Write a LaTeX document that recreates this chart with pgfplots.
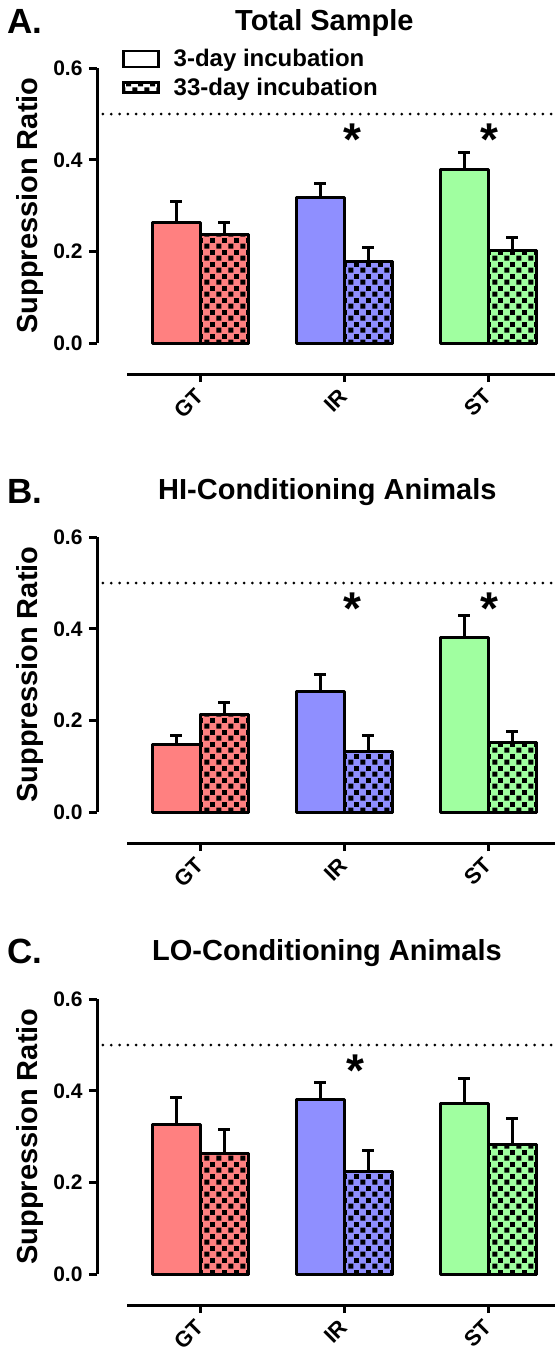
\documentclass[border=0pt]{standalone}
\usepackage{pgfplots}
\pgfplotsset{compat=1.18}
\usepackage{fontspec}
\setmainfont{Liberation Sans}
\usetikzlibrary{patterns}
\pgfdeclarepatternformonly{checker}{\pgfpointorigin}{\pgfqpoint{12pt}{12pt}}{\pgfqpoint{12pt}{12pt}}{%
 \pgfpathrectangle{\pgfqpoint{0.5pt}{0.5pt}}{\pgfqpoint{5.2pt}{5.2pt}}%
 \pgfpathrectangle{\pgfqpoint{6.5pt}{6.5pt}}{\pgfqpoint{5.2pt}{5.2pt}}%
 \pgfusepath{fill}}
\definecolor{cr}{RGB}{255,128,128}
\definecolor{cb}{RGB}{143,143,255}
\definecolor{cg}{RGB}{160,255,160}
\pgfplotsset{
 panel/.style={
  scale only axis, width=458pt, height=305.8pt,
  xmin=-0.7153, xmax=2.465, ymin=-0.0677, ymax=0.6,
  axis x line=bottom, axis y line=left,
  x axis line style={-, line width=3pt, shorten <=30pt},
  y axis line style={-, line width=3pt, shorten <=31pt},
  xtick={0,1,2}, xticklabels={GT,IR,ST},
  ytick={0,0.2,0.4,0.6}, yticklabels={0.0,0.2,0.4,0.6},
  tick align=outside, major tick length=8pt,
  tick style={line width=3pt, black},
  /pgf/number format/assume math mode=true,
  ticklabel style={font=\fontsize{21}{25}\selectfont\bfseries},
  yticklabel style={xshift=-3pt},
  xticklabel style={yshift=-8pt, xshift=2pt, rotate=45, anchor=east, font=\fontsize{22}{25}\selectfont\bfseries},
  clip=false,
  ylabel={Suppression Ratio},
  every axis y label/.style={at={(axis cs:-0.7153,0.3)}, xshift=-59pt, rotate=90, anchor=base, font=\fontsize{29}{30}\selectfont\bfseries},
  error bars/error mark=|,
  error bars/error bar style={line width=3pt, black, solid},
  error bars/error mark options={line width=3pt, mark size=6pt, black, solid},
 },
 bar/.style={ybar, bar width=48pt, bar shift=0pt, draw=black, line width=3pt, line join=round, forget plot,
   error bars/y dir=plus, error bars/y explicit},
 bA/.style={bar, fill=#1},
 bB/.style={bar, fill=#1, postaction={pattern=checker}},
 ref/.style={forget plot, black, line width=3pt, dash pattern=on 0pt off 8.3pt, line cap=round},
}
\newcommand{\sigstar}[2]{\node[font=\fontsize{46}{46}\selectfont\bfseries, anchor=base] at (axis cs:#1,#2) {*};}
\begin{document}
\begin{tikzpicture}
\path[use as bounding box] (0,0) rectangle (555pt,-1353pt);
% Panel A
\begin{axis}[panel, at={(97pt,-374pt)}, anchor=south west,
  legend style={at={(axis cs:-0.7153,0.6)}, anchor=north west, xshift=22pt, yshift=23pt, draw=none, fill=none,
   font=\fontsize{24}{28}\selectfont\bfseries, row sep=6pt, column sep=12pt},
  legend cell align=left]
\addplot[ref] coordinates {(-0.674,0.5) (2.465,0.5)};
\addplot[bA=cr] coordinates {(-0.1667,0.264) +- (0,0.044)};
\addplot[bB=cr] coordinates {(0.1667,0.236) +- (0,0.028)};
\addplot[bA=cb] coordinates {(0.8333,0.317) +- (0,0.031)};
\addplot[bB=cb] coordinates {(1.1667,0.178) +- (0,0.030)};
\addplot[bA=cg] coordinates {(1.8333,0.378) +- (0,0.037)};
\addplot[bB=cg] coordinates {(2.1667,0.201) +- (0,0.030)};
\addlegendimage{legend image code/.code={\draw[line width=2.5pt, fill=white] (0pt,-8pt) rectangle (35pt,8pt);}}
\addlegendentry{3-day incubation}
\addlegendimage{legend image code/.code={\draw[line width=2.5pt, fill=white, postaction={pattern=checker}] (0pt,-5pt) rectangle (35pt,5pt);}}
\addlegendentry{33-day incubation}
\sigstar{1.06}{0.41}
\sigstar{2.01}{0.41}
\end{axis}
% Panel B
\begin{axis}[panel, at={(97pt,-843pt)}, anchor=south west]
\addplot[ref] coordinates {(-0.674,0.5) (2.465,0.5)};
\addplot[bA=cr] coordinates {(-0.1667,0.148) +- (0,0.020)};
\addplot[bB=cr] coordinates {(0.1667,0.212) +- (0,0.028)};
\addplot[bA=cb] coordinates {(0.8333,0.263) +- (0,0.037)};
\addplot[bB=cb] coordinates {(1.1667,0.133) +- (0,0.035)};
\addplot[bA=cg] coordinates {(1.8333,0.380) +- (0,0.050)};
\addplot[bB=cg] coordinates {(2.1667,0.151) +- (0,0.024)};
\sigstar{1.06}{0.41}
\sigstar{2.01}{0.41}
\end{axis}
% Panel C
\begin{axis}[panel, at={(97pt,-1305pt)}, anchor=south west]
\addplot[ref] coordinates {(-0.674,0.5) (2.465,0.5)};
\addplot[bA=cr] coordinates {(-0.1667,0.327) +- (0,0.058)};
\addplot[bB=cr] coordinates {(0.1667,0.264) +- (0,0.052)};
\addplot[bA=cb] coordinates {(0.8333,0.381) +- (0,0.037)};
\addplot[bB=cb] coordinates {(1.1667,0.223) +- (0,0.047)};
\addplot[bA=cg] coordinates {(1.8333,0.372) +- (0,0.055)};
\addplot[bB=cg] coordinates {(2.1667,0.283) +- (0,0.057)};
\sigstar{1.08}{0.41}
\end{axis}
\begin{scope}[every node/.style={anchor=base west}]
\node[font=\fontsize{35}{35}\selectfont\bfseries, inner sep=0pt] at (7pt,-33pt) {A.};
\node[font=\fontsize{35}{35}\selectfont\bfseries, inner sep=0pt] at (7pt,-503pt) {B.};
\node[font=\fontsize{35}{35}\selectfont\bfseries, inner sep=0pt] at (7pt,-963pt) {C.};
\node[font=\fontsize{29}{29}\selectfont\bfseries, inner sep=0pt] at (235pt,-30pt) {Total Sample};
\node[font=\fontsize{29}{29}\selectfont\bfseries, inner sep=0pt] at (158pt,-499pt) {HI-Conditioning Animals};
\node[font=\fontsize{29}{29}\selectfont\bfseries, inner sep=0pt] at (152pt,-960pt) {LO-Conditioning Animals};
\end{scope}
\end{tikzpicture}
\end{document}
